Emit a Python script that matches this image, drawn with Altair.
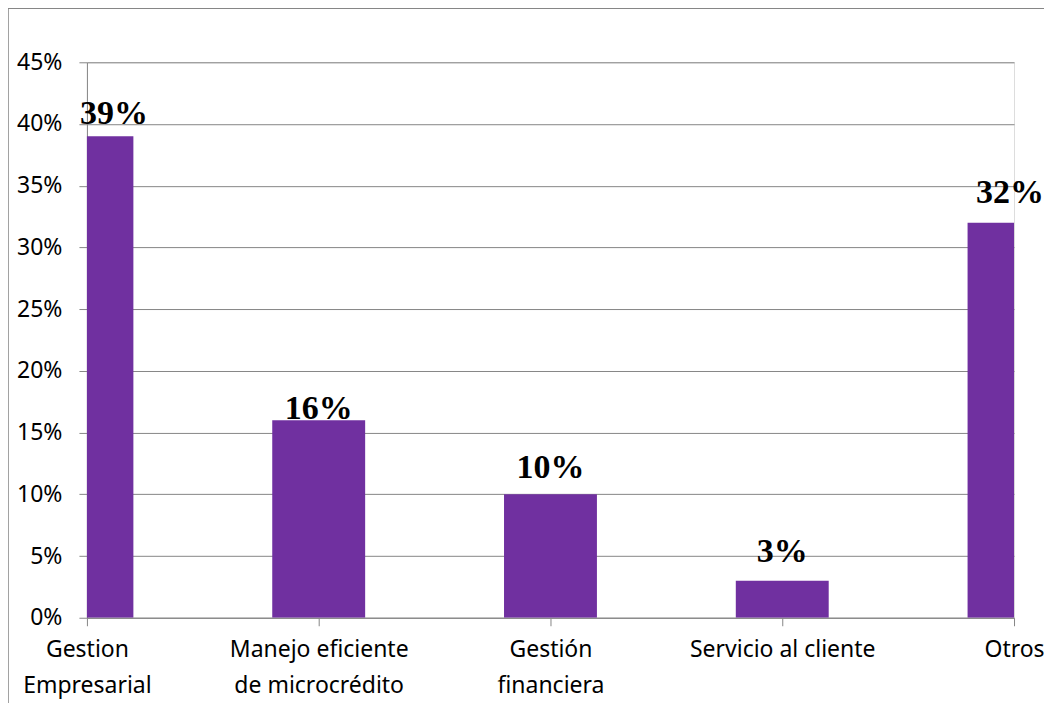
import altair as alt
import pandas as pd

categories = ["Gestion\nEmpresarial", "Manejo eficiente\nde microcrédito", "Gestión\nfinanciera",
              "Servicio al cliente", "Otros"]
values = [0.39, 0.16, 0.10, 0.03, 0.32]
labels = ["39%", "16%", "10%", "3%", "32%"]

df = pd.DataFrame({"cat": categories, "val": values, "lab": labels})

W, H = 928, 556
FONT = "Noto Sans"

xenc = alt.X("cat:N", sort=categories, title=None,
             scale=alt.Scale(type="point", padding=0),
             axis=alt.Axis(labelExpr="split(datum.label, '\\n')", labelAngle=0,
                           labelFont=FONT, labelFontSize=23, labelColor="#000000",
                           labelLineHeight=36, labelPadding=13, tickSize=8,
                           tickColor="#868686", domainColor="#868686", grid=False,
                           labelBaseline="top", labelOverlap=False, labelLimit=400))
yenc = alt.Y("val:Q", title=None,
             scale=alt.Scale(domain=[0, 0.45], nice=False),
             axis=alt.Axis(values=[0, .05, .1, .15, .2, .25, .3, .35, .4, .45], format=".0%",
                           labelFont=FONT, labelFontSize=23, labelColor="#000000",
                           tickSize=8, labelPadding=17, tickColor="#868686",
                           domainColor="#868686", gridColor="#868686", grid=True))

bars = alt.Chart(df).mark_bar(color="#7030A0", size=93, clip=True).encode(x=xenc, y=yenc)

# per-label styling (offsets as placed in the original)
label_style = {"39%": dict(align="left", dx=-7, dy=-12),
               "16%": dict(align="center", dx=0, dy=-1),
               "10%": dict(align="center", dx=0, dy=-16),
               "3%": dict(align="center", dx=0, dy=-19),
               "32%": dict(align="center", dx=-4, dy=-20)}

texts = []
for lab, st in label_style.items():
    texts.append(alt.Chart(df).transform_filter(alt.datum.lab == lab).mark_text(
        font="Liberation Serif", fontWeight="bold", fontSize=34, baseline="alphabetic",
        **st).encode(x=alt.X("cat:N", sort=categories), y="val:Q", text="lab:N"))

frame = alt.Chart(df).mark_rect(fill=None, stroke="#868686", strokeWidth=1.5).encode(
    x=alt.value(-79.5), x2=alt.value(961), y=alt.value(-54), y2=alt.value(700))

chart = alt.layer(frame, bars, *texts).properties(
    width=W, height=H,
    autosize=alt.AutoSizeParams(type="none"),
    padding={"left": 79, "top": 54, "right": 30, "bottom": 85},
).configure_view(stroke=None).configure(background="white")

chart.save("out.html", embed_options={"renderer": "svg", "actions": False})
